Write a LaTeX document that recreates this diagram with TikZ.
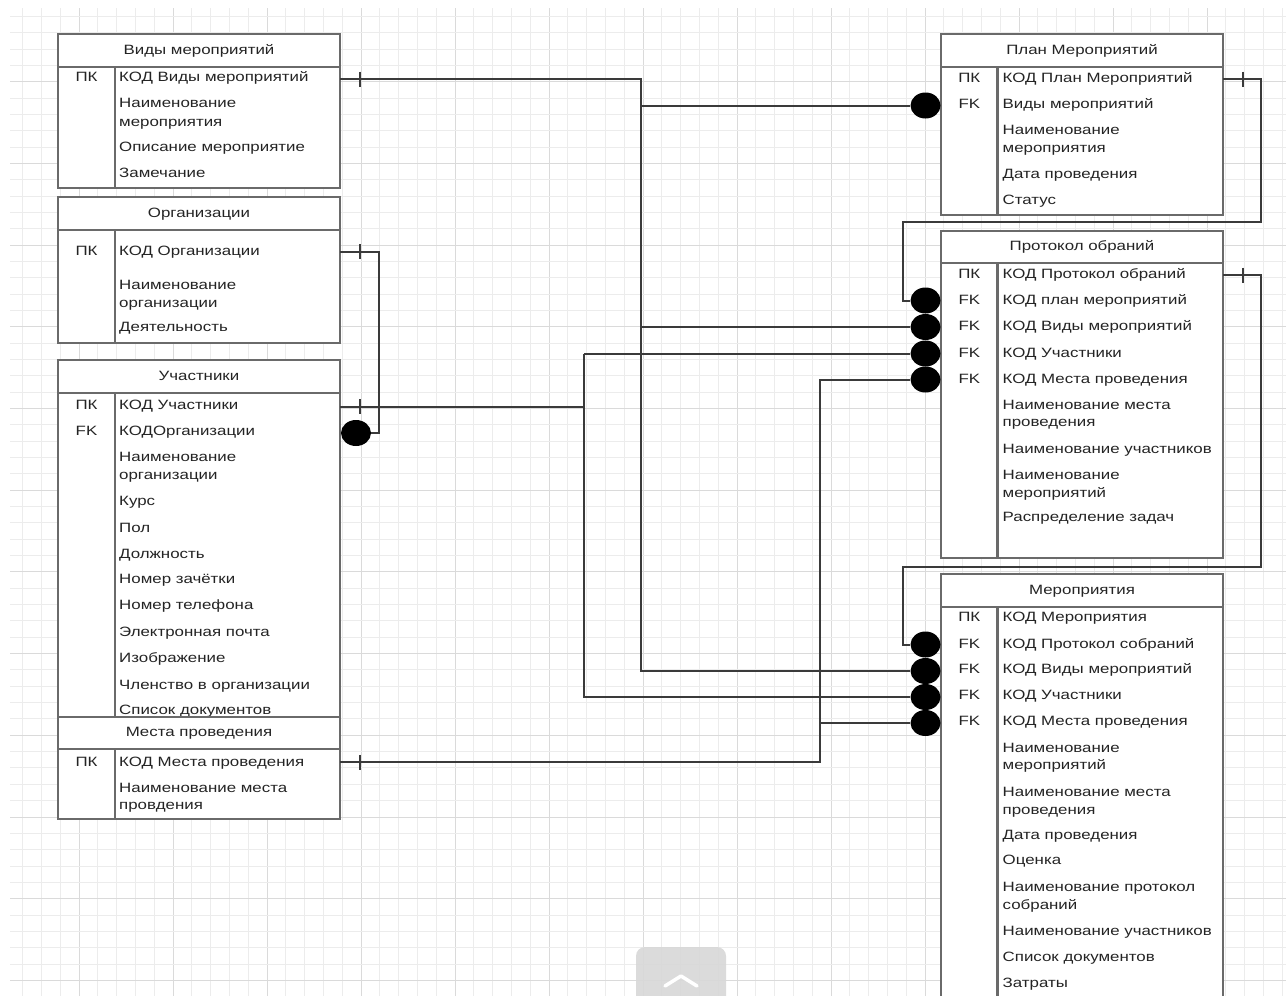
\documentclass[tikz,border=0pt]{standalone}
\usepackage{fontspec}
\setmainfont[FakeStretch=1.25]{Liberation Sans}
\usetikzlibrary{shapes.geometric}

\definecolor{gridminor}{HTML}{ECECEC}
\definecolor{gridmajor}{HTML}{DADADA}
\definecolor{boxgray}{HTML}{6A6A6A}
\definecolor{wirecol}{HTML}{3A3A3A}
\definecolor{ink}{HTML}{242424}
\definecolor{btncol}{HTML}{D8D8D8}

\newcommand\fieldfont{\fontsize{13.5}{18}\selectfont}

\tikzset{
  tbl/.style={draw=boxgray, line width=2.2pt, fill=white, inner sep=0pt, outer sep=0pt, anchor=north west},
  tblline/.style={draw=boxgray, line width=2.2pt},
  fld/.style={anchor=base west, inner sep=0pt, text=ink, font=\fieldfont},
  keyfld/.style={anchor=base, inner sep=0pt, text=ink, font=\fieldfont},
  ttl/.style={anchor=base, inner sep=0pt, text=ink, font=\fieldfont},
  wire/.style={draw=wirecol, line width=2pt},
  crowdot/.style={ellipse, fill=black, draw=none, inner sep=0pt, minimum width=30pt, minimum height=26pt},
}

% table: name, left, top, right, header bottom, bottom, divider x, title
\newcommand\ertable[8]{%
  \node[tbl, minimum width={#4-#2}, minimum height={#6-#3}] (#1) at (#2,#3) {};
  \draw[tblline] (#2,#5) -- (#4,#5);
  \draw[tblline] (#7,#5) -- (#7,#6);
  \node[ttl] (#1-title) at ({(#2+#4)/2},{(#3+#5)/2+3.8}) {#8};
}
\newcommand\fld[4]{\node[fld] (#1) at (#2,#3+4.8) {#4};}
\newcommand\kfld[4]{\node[keyfld] (#1) at (#2,#3+4.8) {#4};}

\begin{document}
\begin{tikzpicture}[x=1pt, y=-1pt]
\clip (0,0) rectangle (1286,996);
\fill[white] (0,0) rectangle (1286,996);

% background grid
\foreach \i in {0,...,67} {
  \pgfmathsetmacro\gx{22.7+18.8*\i}
  \pgfmathtruncatemacro\gm{mod(\i,5)}
  \ifnum\gm=3
    \draw[gridmajor, line width=1pt] (\gx,8) -- (\gx,996);
  \else
    \draw[gridminor, line width=1pt] (\gx,8) -- (\gx,996);
  \fi
}
\foreach \j in {1,...,60} {
  \pgfmathsetmacro\gy{16.34*\j}
  \pgfmathtruncatemacro\gm{mod(\j,5)}
  \ifnum\gm=0
    \draw[gridmajor, line width=1pt] (10,\gy) -- (1286,\gy);
  \else
    \draw[gridminor, line width=1pt] (10,\gy) -- (1286,\gy);
  \fi
}

% ---------- left column ----------
\ertable{vidy}{58}{34.3}{340}{66.7}{188}{115}{Виды мероприятий}
\kfld{v-k1}{86.5}{77}{ПК}
\fld{v-f1}{119}{77}{КОД Виды мероприятий}
\fld{v-f2}{119}{103}{Наименование}
\fld{v-f2b}{119}{121.5}{мероприятия}
\fld{v-f3}{119}{147}{Описание мероприятие}
\fld{v-f4}{119}{173}{Замечание}

\ertable{org}{58}{197.3}{340}{230}{343}{115}{Организации}
\kfld{o-k1}{86.5}{250.7}{ПК}
\fld{o-f1}{119}{250.7}{КОД Организации}
\fld{o-f2}{119}{285}{Наименование}
\fld{o-f2b}{119}{302.7}{организации}
\fld{o-f3}{119}{326.7}{Деятельность}

\ertable{uch}{58}{360}{340}{393.3}{745}{115}{Участники}
\kfld{u-k1}{86.5}{404.3}{ПК}
\kfld{u-k2}{86.5}{431}{FK}
\fld{u-f1}{119}{404.3}{КОД Участники}
\fld{u-f2}{119}{431}{КОДОрганизации}
\fld{u-f3}{119}{456.7}{Наименование}
\fld{u-f3b}{119}{474.3}{организации}
\fld{u-f4}{119}{500.7}{Курс}
\fld{u-f5}{119}{527.3}{Пол}
\fld{u-f6}{119}{553.3}{Должность}
\fld{u-f7}{119}{579}{Номер зачётки}
\fld{u-f8}{119}{605}{Номер телефона}
\fld{u-f9}{119}{631.7}{Электронная почта}
\fld{u-f10}{119}{657.7}{Изображение}
\fld{u-f11}{119}{684.3}{Членство в организации}
\fld{u-f12}{119}{710}{Список документов}

\ertable{mest}{58}{716.7}{340}{749.3}{819.3}{115}{Места проведения}
\kfld{p-k1}{86.5}{761.7}{ПК}
\fld{p-f1}{119}{761.7}{КОД Места проведения}
\fld{p-f2}{119}{787.3}{Наименование места}
\fld{p-f2b}{119}{805}{провдения}

% ---------- right column ----------
\ertable{plan}{941}{34.3}{1223}{66.7}{215}{997.5}{План Мероприятий}
\kfld{pl-k1}{969.3}{77.3}{ПК}
\kfld{pl-k2}{969.3}{104}{FK}
\fld{pl-f1}{1002.5}{77.3}{КОД План Мероприятий}
\fld{pl-f2}{1002.5}{104}{Виды мероприятий}
\fld{pl-f3}{1002.5}{129.3}{Наименование}
\fld{pl-f3b}{1002.5}{147.7}{мероприятия}
\fld{pl-f4}{1002.5}{173.3}{Дата проведения}
\fld{pl-f5}{1002.5}{200}{Статус}

\ertable{prot}{941}{231}{1223}{262.7}{558.3}{997.5}{Протокол обраний}
\kfld{r-k1}{969.3}{273.3}{ПК}
\kfld{r-k2}{969.3}{300}{FK}
\kfld{r-k3}{969.3}{326}{FK}
\kfld{r-k4}{969.3}{352.3}{FK}
\kfld{r-k5}{969.3}{378.3}{FK}
\fld{r-f1}{1002.5}{273.3}{КОД Протокол обраний}
\fld{r-f2}{1002.5}{300}{КОД план мероприятий}
\fld{r-f3}{1002.5}{326}{КОД Виды мероприятий}
\fld{r-f4}{1002.5}{352.3}{КОД Участники}
\fld{r-f5}{1002.5}{378.3}{КОД Места проведения}
\fld{r-f6}{1002.5}{404.3}{Наименование места}
\fld{r-f6b}{1002.5}{421.7}{проведения}
\fld{r-f7}{1002.5}{448.3}{Наименование участников}
\fld{r-f8}{1002.5}{474.3}{Наименование}
\fld{r-f8b}{1002.5}{492.7}{мероприятий}
\fld{r-f9}{1002.5}{516.7}{Распределение задач}

\ertable{mer}{941}{574.3}{1223}{606.7}{1012}{997.5}{Мероприятия}
\kfld{m-k1}{969.3}{616.7}{ПК}
\kfld{m-k2}{969.3}{643.3}{FK}
\kfld{m-k3}{969.3}{669}{FK}
\kfld{m-k4}{969.3}{695}{FK}
\kfld{m-k5}{969.3}{721}{FK}
\fld{m-f1}{1002.5}{616.7}{КОД Мероприятия}
\fld{m-f2}{1002.5}{643.3}{КОД Протокол собраний}
\fld{m-f3}{1002.5}{669}{КОД Виды мероприятий}
\fld{m-f4}{1002.5}{695}{КОД Участники}
\fld{m-f5}{1002.5}{721}{КОД Места проведения}
\fld{m-f6}{1002.5}{747.7}{Наименование}
\fld{m-f6b}{1002.5}{765}{мероприятий}
\fld{m-f7}{1002.5}{791.7}{Наименование места}
\fld{m-f7b}{1002.5}{810}{проведения}
\fld{m-f8}{1002.5}{834.3}{Дата проведения}
\fld{m-f9}{1002.5}{860}{Оценка}
\fld{m-f10}{1002.5}{886.7}{Наименование протокол}
\fld{m-f10b}{1002.5}{905}{собраний}
\fld{m-f11}{1002.5}{931}{Наименование участников}
\fld{m-f12}{1002.5}{956.7}{Список документов}
\fld{m-f13}{1002.5}{982.3}{Затраты}

% ---------- key ends and many-side dots ----------
\coordinate (vidyK) at (340,79);
\coordinate (orgK)  at (340,251.7);
\coordinate (uchK)  at (340,406.7);
\coordinate (mestK) at (340,762.3);
\coordinate (planK) at (1223,79);
\coordinate (protK) at (1223,275);

\node[crowdot] (ud) at (356,433) {};
\node[crowdot] (pd) at (925.5,105.5) {};
\node[crowdot] (r1) at (925.5,300.5) {};
\node[crowdot] (r2) at (925.5,327) {};
\node[crowdot] (r3) at (925.5,353.5) {};
\node[crowdot] (r4) at (925.5,379.5) {};
\node[crowdot] (m1) at (925.5,644.5) {};
\node[crowdot] (m2) at (925.5,671) {};
\node[crowdot] (m3) at (925.5,697) {};
\node[crowdot] (m4) at (925.5,723) {};

% bend points of the routed connectors
\coordinate (vidyBend) at (641,671);
\coordinate (uchBus)   at (584,0);
\coordinate (mestBend) at (820,379.5);
\coordinate (orgBend)  at (379,433);
\coordinate (planLowR) at (1261,222.3);
\coordinate (planLowL) at (903,222.3);
\coordinate (protLowR) at (1261,566.7);
\coordinate (protLowL) at (903,566.7);

% ---------- connectors ----------
\draw[wire] (vidyK) -| (vidyBend) -- (m2);
\draw[wire] (vidyBend |- pd) -- (pd);
\draw[wire] (vidyBend |- r2) -- (r2);

\draw[wire] (uchK) -- (uchK -| uchBus);
\draw[wire] (uchBus |- r3) -- (uchBus |- m3) -- (m3);
\draw[wire] (uchBus |- r3) -- (r3);

\draw[wire] (mestK) -| (mestBend) -- (r4);
\draw[wire] (mestBend |- m4) -- (m4);

\draw[wire] (orgK) -| (orgBend) -- (ud);

\draw[wire] (planK) -| (planLowR) -- (planLowL) |- (r1);
\draw[wire] (protK) -| (protLowR) -- (protLowL) |- (m1);

% one-side bars
\foreach \k/\dx in {vidyK/20, orgK/20, uchK/20, mestK/20, planK/20, protK/20} {
  \draw[wire] ([xshift=\dx pt, yshift=7.5pt]\k) -- ([xshift=\dx pt, yshift=-7.5pt]\k);
}

% scroll button
\fill[btncol, opacity=0.9, rounded corners=9pt] (636,947) rectangle (726,1012);
\draw[white, line width=3.5pt, line cap=round, line join=round] (665,986) -- (681,976) -- (697,986);
\end{tikzpicture}
\end{document}
